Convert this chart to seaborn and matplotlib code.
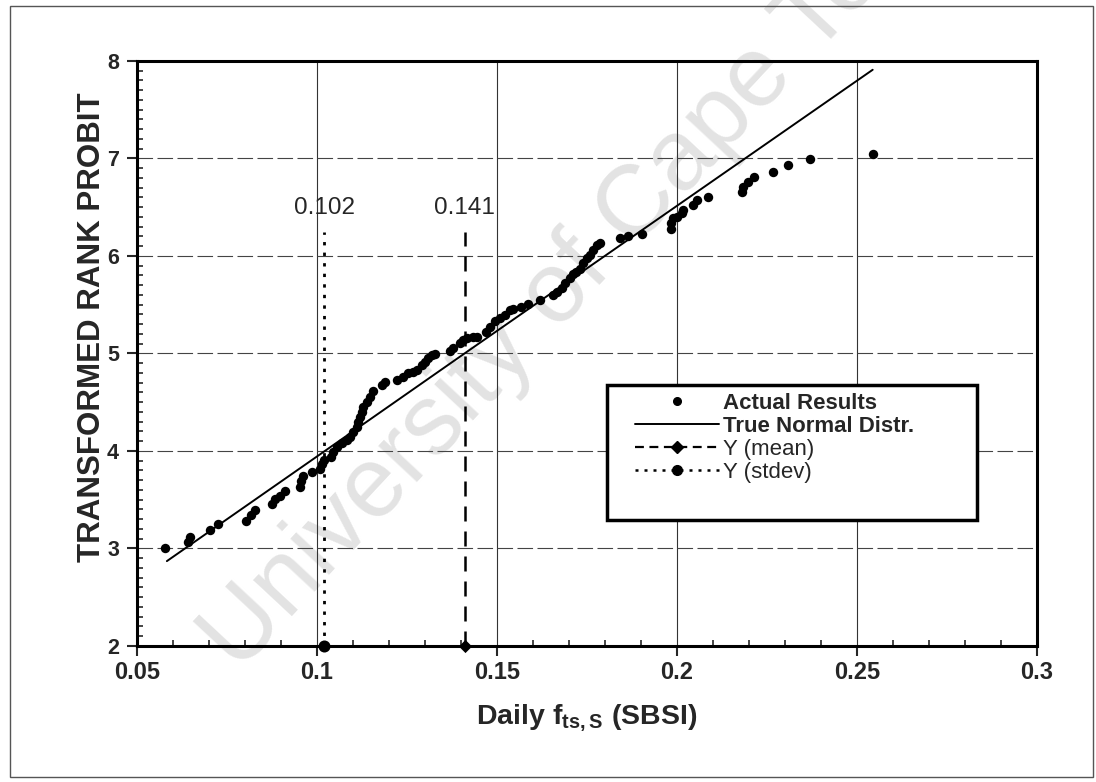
import matplotlib
matplotlib.use('Agg')
import matplotlib.pyplot as plt
from matplotlib.lines import Line2D
from matplotlib.patches import Rectangle
from matplotlib.ticker import MultipleLocator
import pandas as pd
import seaborn as sns

# observed points (daily f_ts,S vs transformed rank probit)
fts = [0.0577, 0.0642, 0.0646, 0.0702, 0.0725, 0.0804, 0.0818, 0.0827, 0.0874, 0.0883,
       0.0897, 0.0912, 0.0952, 0.0957, 0.0961, 0.0987, 0.1008, 0.1015, 0.1019, 0.1040,
       0.1045, 0.1055, 0.1069, 0.1083, 0.1091, 0.1099, 0.1111, 0.1113, 0.1119, 0.1125,
       0.1127, 0.1139, 0.1147, 0.1155, 0.1180, 0.1190, 0.1222, 0.1238, 0.1252, 0.1266,
       0.1277, 0.1291, 0.1300, 0.1308, 0.1319, 0.1327, 0.1369, 0.1377, 0.1397, 0.1405,
       0.1416, 0.1434, 0.1444, 0.1471, 0.1480, 0.1494, 0.1508, 0.1522, 0.1536, 0.1545,
       0.1568, 0.1587, 0.1619, 0.1656, 0.1666, 0.1680, 0.1689, 0.1703, 0.1712, 0.1721,
       0.1730, 0.1740, 0.1749, 0.1758, 0.1768, 0.1777, 0.1786, 0.1842, 0.1865, 0.1902,
       0.1983, 0.1985, 0.1990, 0.1999, 0.2013, 0.2018, 0.2045, 0.2055, 0.2087, 0.2180,
       0.2183, 0.2198, 0.2214, 0.2268, 0.2308, 0.2370, 0.2544]
probit = [3.00, 3.07, 3.12, 3.19, 3.25, 3.28, 3.34, 3.39, 3.46, 3.51,
          3.54, 3.59, 3.63, 3.69, 3.74, 3.78, 3.82, 3.87, 3.91, 3.94,
          3.99, 4.04, 4.08, 4.11, 4.14, 4.19, 4.25, 4.30, 4.35, 4.40,
          4.45, 4.50, 4.55, 4.61, 4.68, 4.71, 4.73, 4.76, 4.80, 4.81,
          4.83, 4.88, 4.91, 4.95, 4.98, 4.99, 5.03, 5.06, 5.11, 5.14,
          5.16, 5.17, 5.17, 5.22, 5.27, 5.33, 5.36, 5.39, 5.45, 5.46,
          5.48, 5.51, 5.55, 5.60, 5.63, 5.67, 5.72, 5.77, 5.81, 5.84,
          5.87, 5.93, 5.98, 6.01, 6.06, 6.11, 6.13, 6.18, 6.20, 6.23,
          6.28, 6.34, 6.39, 6.40, 6.44, 6.47, 6.52, 6.57, 6.60, 6.66,
          6.71, 6.76, 6.81, 6.86, 6.93, 6.99, 7.05]

normal_x = [0.0583, 0.1022, 0.141, 0.2544]
normal_y = [2.87, 4.00, 5.00, 7.91]

mean_x = [0.141, 0.141]
stdev_x = [0.102, 0.102]
ref_y = [2.0, 6.25]
ref_labels = ['0.102', '0.141']
ref_label_x = [0.102, 0.141]
ref_label_y = 6.49

x_ticks = [0.05, 0.1, 0.15, 0.2, 0.25, 0.3]
x_tick_labels = ['0.05', '0.1', '0.15', '0.2', '0.25', '0.3']
y_ticks = [2, 3, 4, 5, 6, 7, 8]
legend_labels = ['Actual Results', 'True Normal Distr.', 'Y (mean)', 'Y (stdev)']

sns.set_style('ticks')
plt.rcParams['font.family'] = ['Liberation Sans', 'DejaVu Sans']
plt.rcParams['mathtext.fontset'] = 'custom'
plt.rcParams['mathtext.rm'] = 'Liberation Sans'
plt.rcParams['mathtext.bf'] = 'Liberation Sans:bold'

fig = plt.figure(figsize=(10.96, 7.82), dpi=100)
ax = fig.add_axes([0.125, 0.174, 0.821, 0.748])
ax.set_facecolor('none')

# scanned watermark and page frame
fig.text(0.535, 0.665, 'University of Cape Town', rotation=47, fontsize=72,
         color='#e3e3e3', ha='center', va='center', rotation_mode='anchor', zorder=-5)
fig.add_artist(Rectangle((0.009, 0.006), 0.988, 0.986, transform=fig.transFigure,
                         fill=False, ec='#555555', lw=1))

df = pd.DataFrame({'fts': fts, 'probit': probit})
sns.scatterplot(data=df, x='fts', y='probit', ax=ax, color='black', s=46,
                linewidth=0, zorder=4, legend=False)
sns.lineplot(x=normal_x, y=normal_y, ax=ax, color='black', lw=1.4, zorder=3)
sns.lineplot(x=stdev_x, y=ref_y, ax=ax, color='black', lw=2, linestyle=(0, (1.2, 2.6)),
             estimator=None, sort=False, zorder=3)
sns.lineplot(x=mean_x, y=ref_y, ax=ax, color='black', lw=1.8, linestyle=(0, (6, 4)),
             estimator=None, sort=False, zorder=3)
sns.scatterplot(x=stdev_x[:1], y=ref_y[:1], ax=ax, color='black', marker='o', s=75,
                linewidth=0, clip_on=False, zorder=6, legend=False)
sns.scatterplot(x=mean_x[:1], y=ref_y[:1], ax=ax, color='black', marker='D', s=45,
                linewidth=0, clip_on=False, zorder=6, legend=False)

for lbl, lx in zip(ref_labels, ref_label_x):
    ax.text(lx, ref_label_y, lbl, ha='center', va='center', fontsize=17.5)

ax.set_xlim(0.05, 0.3)
ax.set_ylim(2, 8)
ax.set_xticks(x_ticks, x_tick_labels)
ax.set_yticks(y_ticks)
ax.xaxis.set_minor_locator(MultipleLocator(0.01))
ax.yaxis.set_minor_locator(MultipleLocator(0.1))
ax.tick_params(which='major', direction='out', length=7, width=1.5, labelsize=17, pad=4)
ax.tick_params(axis='y', which='major', labelsize=15.5, pad=6)
ax.tick_params(which='minor', direction='in', length=4, width=1.2)
for t in ax.get_xticklabels() + ax.get_yticklabels():
    t.set_fontweight('bold')

ax.grid(axis='x', which='major', color='#333333', lw=0.8)
ax.grid(axis='y', which='major', color='#444444', lw=0.8, linestyle=(0, (14, 4)))
for s in ax.spines.values():
    s.set_linewidth(2.2)
    s.set_color('black')

ax.set_xlabel(r'Daily f$_{\mathbf{ts,S}}$ (SBSI)', fontsize=20.5, fontweight='bold')
ax.set_ylabel('TRANSFORMED RANK PROBIT', fontsize=22.5, fontweight='bold')
ax.xaxis.set_label_coords(0.5, -0.097)
ax.yaxis.set_label_coords(-0.033, 0.545)

# legend
ax.add_patch(Rectangle((0.522, 0.215), 0.411, 0.231, transform=ax.transAxes,
                       fc='white', ec='black', lw=2.5, zorder=7))
handles = [Line2D([], [], ls='none', marker='o', ms=5.5, color='black'),
           Line2D([], [], color='black', lw=1.4),
           Line2D([], [], color='black', lw=1.6, ls=(0, (4, 2.5)), marker='D', ms=6),
           Line2D([], [], color='black', lw=1.8, ls=(0, (1.2, 2.4)), marker='o', ms=7)]
leg = ax.legend(handles, legend_labels, loc='upper left', bbox_to_anchor=(0.553, 0.432),
                frameon=False, fontsize=16, handlelength=3.8, handletextpad=0.2,
                labelspacing=0.09, borderpad=0, borderaxespad=0)
leg.set_zorder(8)
for t in leg.get_texts()[:2]:
    t.set_fontweight('bold')

fig.savefig('out.png', dpi=100)
